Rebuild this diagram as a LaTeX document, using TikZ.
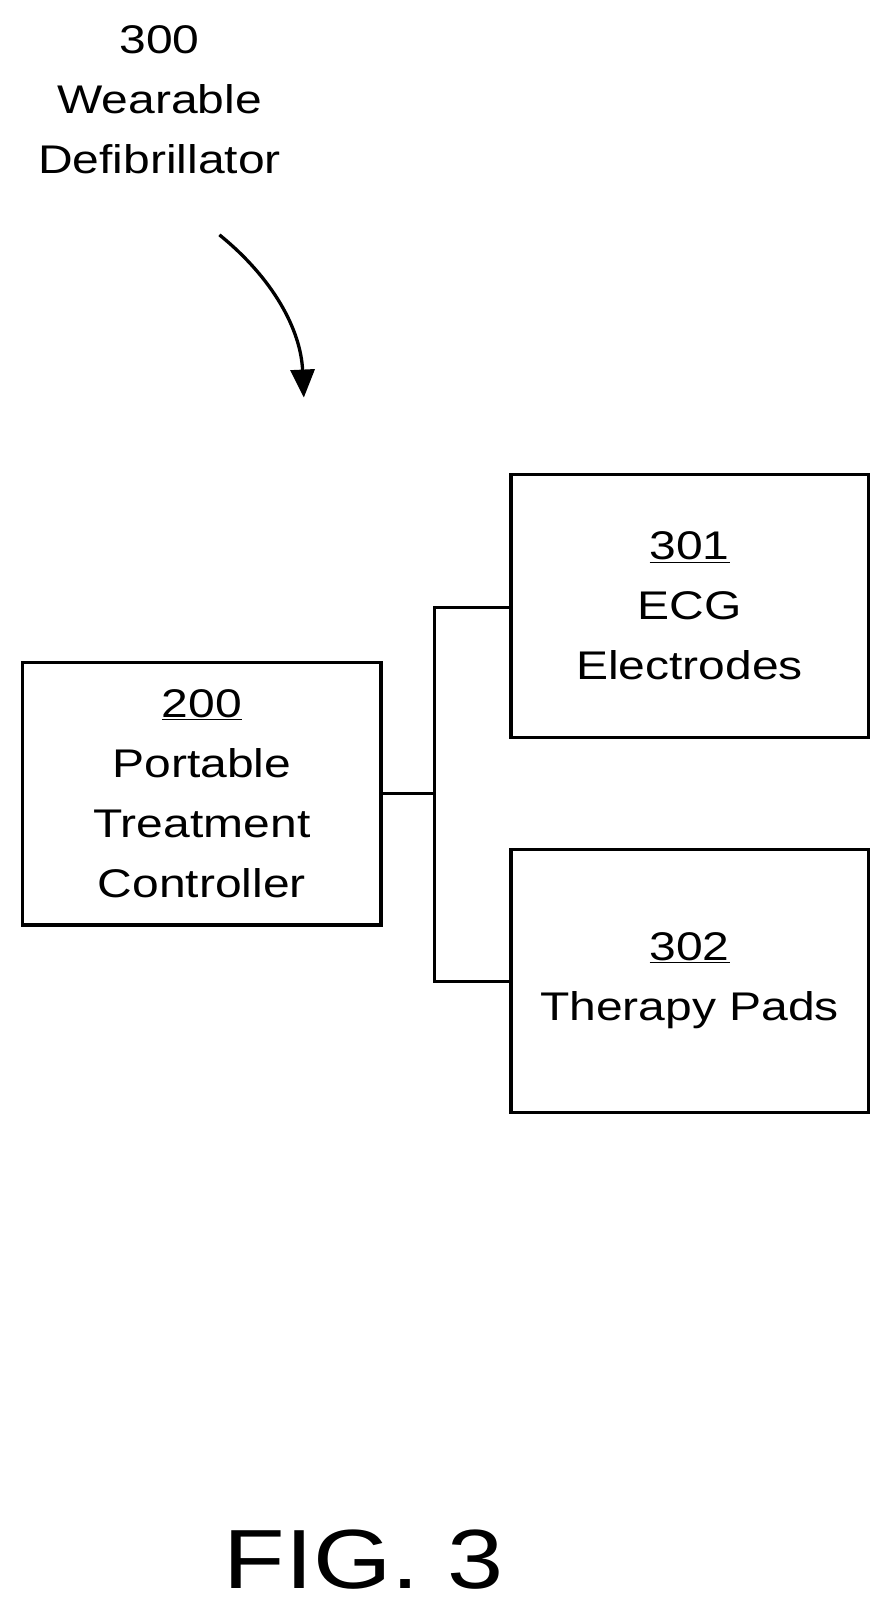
\documentclass[tikz,border=0pt]{standalone}
\usepackage{fontspec}
\setmainfont{Liberation Sans}[FakeStretch=1.2]
\usetikzlibrary{arrows.meta}
\begin{document}
\begin{tikzpicture}[x=1.03pt,y=-1.03pt,
  lbl/.style={align=center,font=\fontsize{40}{60}\selectfont},
  boxl/.style={draw,line width=3.3pt},
  wire/.style={line width=3.3pt}]
\useasboundingbox (0,0) rectangle (867,1568);
\draw[boxl] (22,643) rectangle (370,898);
\draw[boxl] (496,461) rectangle (843,716);
\draw[boxl] (496,825) rectangle (843,1080);
\node[lbl] (b200) at (196,770.5) {\underline{200}\\Portable\\Treatment\\Controller};
\node[lbl] (b301) at (669.5,588.5) {\underline{301}\\ECG\\Electrodes};
\node[lbl] (t302) at (669.5,952.5) {\underline{302}\\Therapy Pads};
\coordinate (e200) at (370,770.5);
\coordinate (w301) at (496,590);
\coordinate (w302) at (496,953);
\node[lbl] (t300) at (155,97) {300\\Wearable\\Defibrillator};
\node[font=\fontsize{84}{90}\selectfont,inner sep=0pt] (fig) at (353,1514) {FIG. 3};
\coordinate (j) at (422,770.5);
\draw[wire] (e200) -- (j);
\draw[wire] (w301) -| (j) |- (w302);
\coordinate (a1) at (213,228);
\coordinate (a2) at (295,386);
\draw[line width=3.3pt,-{Triangle[length=28pt,width=24pt]}] (a1) .. controls (265,270) and (292,320) .. (a2);
\end{tikzpicture}
\end{document}
